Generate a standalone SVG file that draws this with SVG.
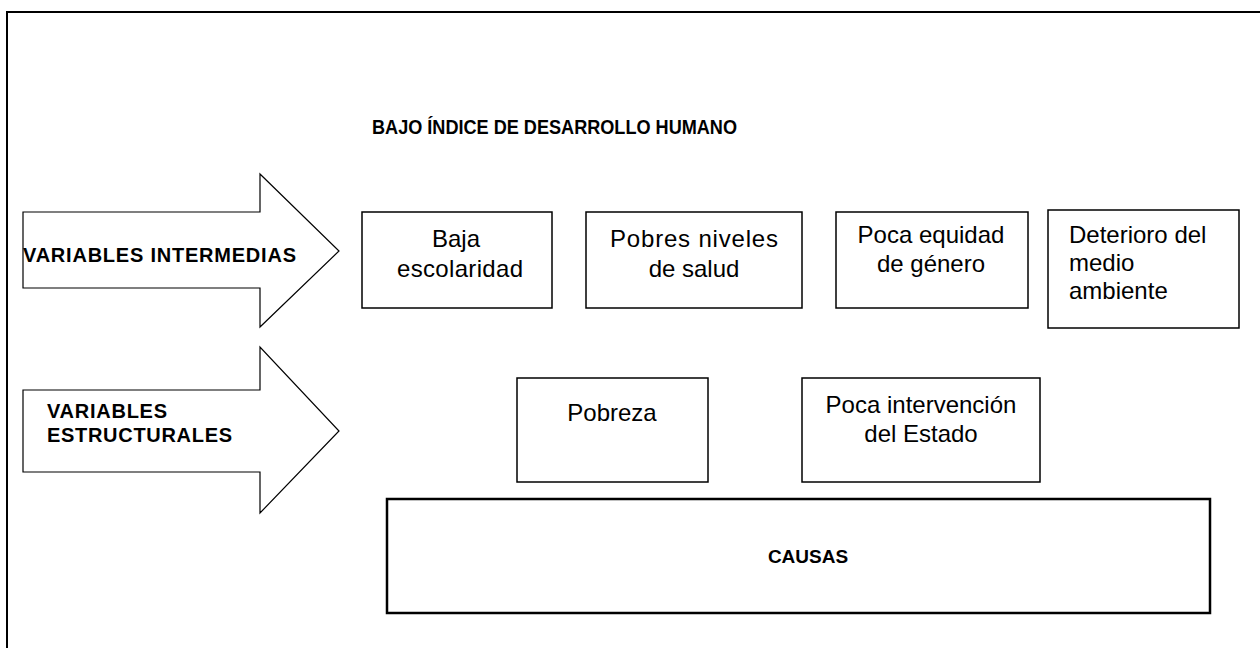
<svg xmlns="http://www.w3.org/2000/svg" width="1260" height="648" viewBox="0 0 1260 648">
<style>
.box{fill:#fff;stroke:#000;stroke-width:1.5}
.big{fill:#fff;stroke:#000;stroke-width:2.5}
.arrow{fill:#fff;stroke:#000;stroke-width:1.2;stroke-linejoin:miter}
.t{font-family:"Liberation Sans",Arial,sans-serif;font-size:24px;fill:#000}
.b{font-family:"Liberation Sans",Arial,sans-serif;font-size:20px;font-weight:bold;fill:#000}
</style>
<rect x="0" y="0" width="1260" height="648" fill="#fff"/>
<rect x="7" y="12" width="1280" height="700" fill="none" stroke="#000" stroke-width="2"/>
<g id="connectors"></g>
<g id="title"><text class="b" x="372" y="134" textLength="365" lengthAdjust="spacingAndGlyphs">BAJO ÍNDICE DE DESARROLLO HUMANO</text></g>
<g id="arrow-intermedias">
<polygon class="arrow" points="23,212 260,212 260,174 339,251 260,327 260,288 23,288"/>
<text class="b" x="23" y="262" textLength="273" lengthAdjust="spacing">VARIABLES INTERMEDIAS</text>
</g>
<g id="arrow-estructurales">
<polygon class="arrow" points="23,390 260,390 260,347 339,431 260,513 260,472 23,472"/>
<text class="b" x="47" y="418" textLength="120" lengthAdjust="spacing">VARIABLES</text>
<text class="b" x="47" y="442" textLength="185" lengthAdjust="spacing">ESTRUCTURALES</text>
</g>
<g id="baja-escolaridad">
<rect class="box" x="362" y="212" width="190" height="96"/>
<text class="t" text-anchor="middle" x="456" y="247">Baja</text>
<text class="t" text-anchor="middle" x="460" y="277" textLength="126" lengthAdjust="spacing">escolaridad</text>
</g>
<g id="pobres-niveles">
<rect class="box" x="586" y="212" width="216" height="96"/>
<text class="t" text-anchor="middle" x="694" y="247" textLength="168" lengthAdjust="spacing">Pobres niveles</text>
<text class="t" text-anchor="middle" x="694" y="277">de salud</text>
</g>
<g id="poca-equidad">
<rect class="box" x="836" y="212" width="192" height="96"/>
<text class="t" text-anchor="middle" x="931" y="243">Poca equidad</text>
<text class="t" text-anchor="middle" x="931" y="272">de género</text>
</g>
<g id="deterioro">
<rect class="box" x="1048" y="210" width="191" height="118"/>
<text class="t" x="1069" y="243">Deterioro del</text>
<text class="t" x="1069" y="271">medio</text>
<text class="t" x="1069" y="299">ambiente</text>
</g>
<g id="pobreza">
<rect class="box" x="517" y="378" width="191" height="104"/>
<text class="t" text-anchor="middle" x="612" y="421">Pobreza</text>
</g>
<g id="poca-intervencion">
<rect class="box" x="802" y="378" width="238" height="104"/>
<text class="t" text-anchor="middle" x="921" y="413">Poca intervención</text>
<text class="t" text-anchor="middle" x="921" y="442">del Estado</text>
</g>
<g id="causas">
<rect class="big" x="387" y="499" width="823" height="114"/>
<text class="b" style="font-size:19px" text-anchor="middle" x="808" y="563">CAUSAS</text>
</g>
</svg>
